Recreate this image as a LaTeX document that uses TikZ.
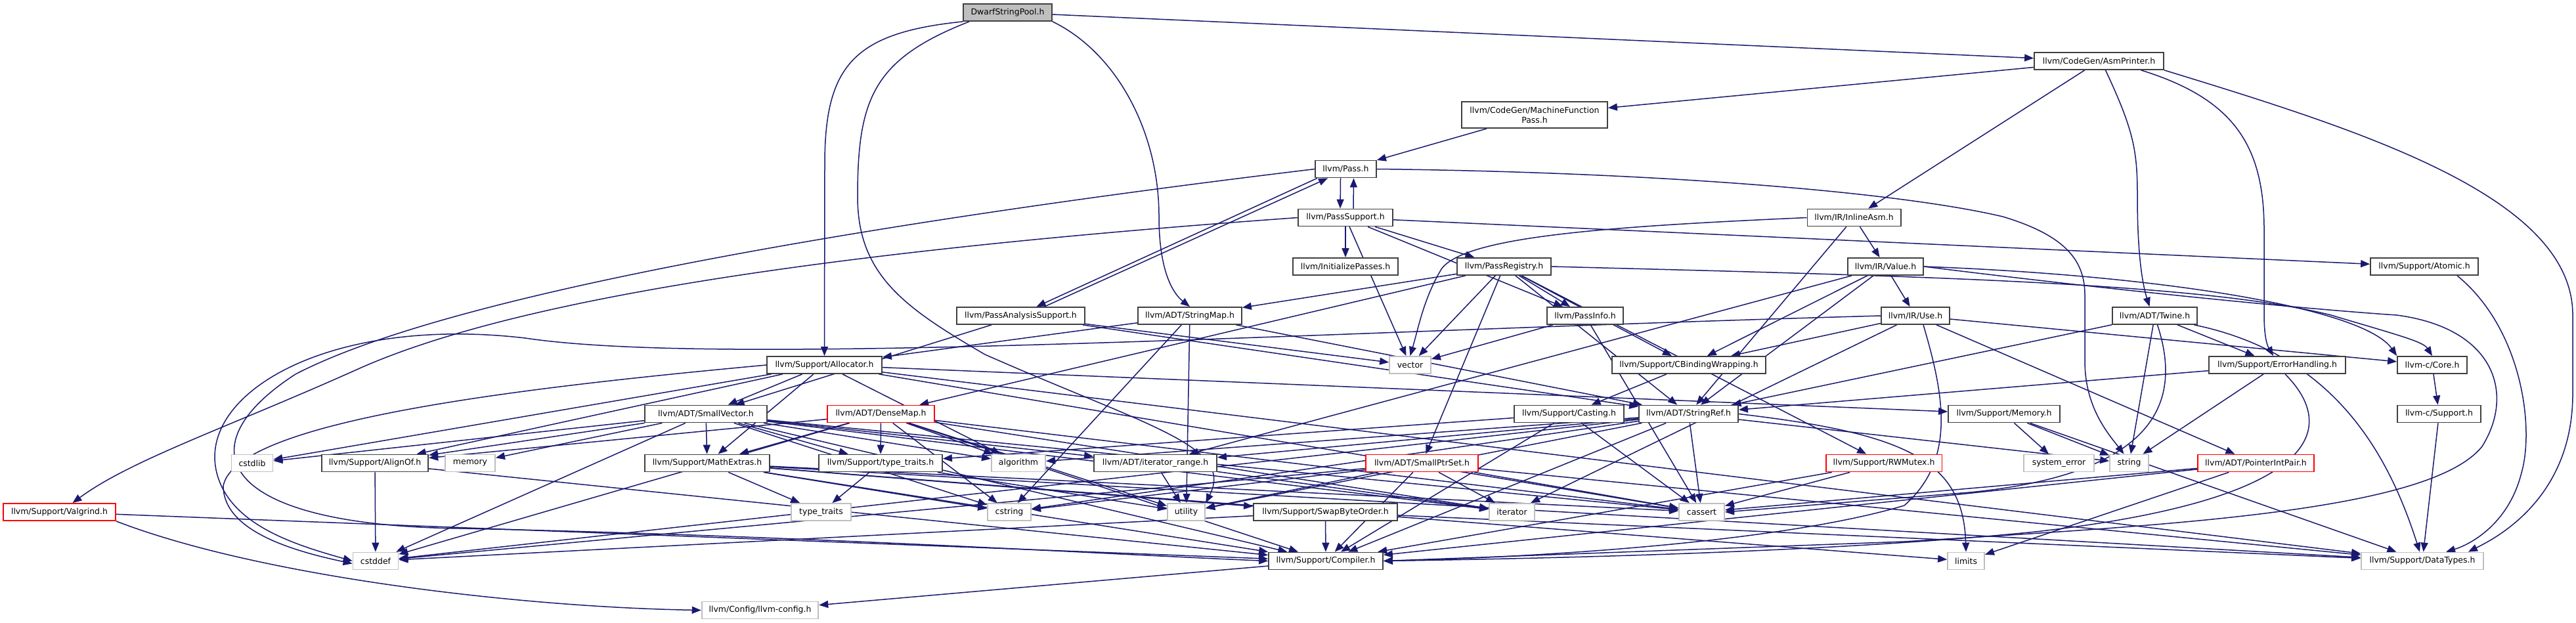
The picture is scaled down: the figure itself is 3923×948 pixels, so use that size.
\documentclass[tikz,border=0pt]{standalone}
\usepackage{fontspec}
\setmainfont{DejaVu Sans}
\usetikzlibrary{arrows.meta}
\definecolor{edgec}{HTML}{191970}
\definecolor{grayb}{HTML}{BFBFBF}
\definecolor{darkb}{HTML}{404040}
\pgfdeclarelayer{bg}
\pgfsetlayers{bg,main}
\begin{document}
\begin{tikzpicture}[x=0.5pt,y=-0.5pt,
  nd/.style={draw=darkb, line width=0.9pt, fill=white, minimum height=13pt, inner xsep=5.5pt, inner ysep=1pt, font=\fontsize{6.23pt}{7.5pt}\selectfont, text=black},
  sys/.style={nd, draw=grayb},
  trunc/.style={nd, draw=red},
  wd/.style={minimum width=#1*0.5pt},
  ed/.style={draw=edgec, line width=0.75pt, -{Triangle[length=7pt,width=5.5pt]}}]
\useasboundingbox (0,0) rectangle (3923,948);
\node[nd,wd=135,fill=grayb] (dsp) at (1534.5,19) {DwarfStringPool.h};
\node[nd,wd=197] (asm) at (3196.5,93) {llvm/CodeGen/AsmPrinter.h};
\node[nd,wd=222,minimum height=20pt,align=center] (mfp) at (2337,175) {llvm/CodeGen/MachineFunction\\Pass.h};
\node[nd,wd=93] (pass) at (2049.5,257.5) {llvm/Pass.h};
\node[nd,wd=144] (psup) at (2049,331.5) {llvm/PassSupport.h};
\node[nd,wd=141] (inl) at (2823.5,331.5) {llvm/IR/InlineAsm.h};
\node[nd,wd=160] (init) at (2049,406) {llvm/InitializePasses.h};
\node[nd,wd=143] (preg) at (2290.5,406) {llvm/PassRegistry.h};
\node[nd,wd=115] (val) at (2871.5,406) {llvm/IR/Value.h};
\node[nd,wd=164] (atom) at (3692,406) {llvm/Support/Atomic.h};
\node[nd,wd=195] (pas) at (1554.5,481) {llvm/PassAnalysisSupport.h};
\node[nd,wd=158] (smap) at (1812,481) {llvm/ADT/StringMap.h};
\node[nd,wd=116] (pinfo) at (2414,481) {llvm/PassInfo.h};
\node[nd,wd=104] (use) at (2917,481) {llvm/IR/Use.h};
\node[nd,wd=127] (twine) at (3281.5,481) {llvm/ADT/Twine.h};
\node[nd,wd=175] (alloc) at (1255.5,556) {llvm/Support/Allocator.h};
\node[sys,wd=63] (vec) at (2147.5,556) {vector};
\node[nd,wd=234] (cbw) at (2572,556) {llvm/Support/CBindingWrapping.h};
\node[nd,wd=208] (err) at (3468,556) {llvm/Support/ErrorHandling.h};
\node[nd,wd=106] (core) at (3704,556) {llvm-c/Core.h};
\node[nd,wd=186] (svec) at (1075,630.5) {llvm/ADT/SmallVector.h};
\node[trunc,wd=163] (dmap) at (1341.5,630.5) {llvm/ADT/DenseMap.h};
\node[nd,wd=167] (cast) at (2389.5,630.5) {llvm/Support/Casting.h};
\node[nd,wd=151] (sref) at (2571.5,630.5) {llvm/ADT/StringRef.h};
\node[nd,wd=170] (mem) at (3052,630.5) {llvm/Support/Memory.h};
\node[nd,wd=127] (csup) at (3714.5,630.5) {llvm-c/Support.h};
\node[sys,wd=62] (cstdlib) at (384,705.5) {cstdlib};
\node[nd,wd=162] (align) at (571,705.5) {llvm/Support/AlignOf.h};
\node[sys,wd=76] (memory) at (716,705.5) {memory};
\node[nd,wd=190] (math) at (1077,705.5) {llvm/Support/MathExtras.h};
\node[nd,wd=188] (tt) at (1341,705.5) {llvm/Support/type\_traits.h};
\node[sys,wd=82] (algo) at (1551,705.5) {algorithm};
\node[nd,wd=187] (irange) at (1759.5,705.5) {llvm/ADT/iterator\_range.h};
\node[trunc,wd=171] (sps) at (2165.5,705.5) {llvm/ADT/SmallPtrSet.h};
\node[trunc,wd=176] (rwm) at (2869,705.5) {llvm/Support/RWMutex.h};
\node[sys,wd=107] (syserr) at (3135.5,705.5) {system\_error};
\node[sys,wd=59] (str) at (3242.5,705.5) {string};
\node[trunc,wd=177] (pip) at (3435.5,705.5) {llvm/ADT/PointerIntPair.h};
\node[trunc,wd=171] (valg) at (90.5,780) {llvm/Support/Valgrind.h};
\node[sys,wd=91] (stt) at (1250.5,780) {type\_traits};
\node[sys,wd=66] (cstring) at (1537,780) {cstring};
\node[sys,wd=55] (util) at (1806.5,780) {utility};
\node[nd,wd=219] (swap) at (2018.5,780) {llvm/Support/SwapByteOrder.h};
\node[sys,wd=69] (iter) at (2302.5,780) {iterator};
\node[sys,wd=69] (cassert) at (2591.5,780) {cassert};
\node[sys,wd=69] (cstddef) at (572,854.5) {cstddef};
\node[nd,wd=174] (comp) at (2019,854.5) {llvm/Support/Compiler.h};
\node[sys,wd=56] (limits) at (2994,854.5) {limits};
\node[sys,wd=186] (dtypes) at (3689,854.5) {llvm/Support/DataTypes.h};
\node[sys,wd=177] (cfg) at (1157.5,929.5) {llvm/Config/llvm-config.h};
\begin{pgfonlayer}{bg}
\foreach \a/\b in {dsp/asm, asm/mfp, asm/inl, mfp/pass,
 psup/init, psup/pinfo, psup/preg, psup/atom, psup/vec,
 pas/svec, pas/sref, pas/vec,
 inl/val, inl/sref,
 preg/smap, preg/dmap, preg/vec, preg/sps, preg/sref, preg/pinfo, preg/cbw, preg/rwm,
 smap/sref, smap/alloc, smap/cstring, smap/util,
 pinfo/vec, pinfo/cassert,
 val/use, val/cbw, val/sref, val/irange,
 use/cbw, use/pip, use/core, use/iter,
 twine/sref, twine/str, twine/err,
 err/sref, err/str,
 core/csup, csup/dtypes,
 alloc/svec, alloc/align, alloc/dtypes, alloc/math, alloc/mem, alloc/algo, alloc/cassert, alloc/cstdlib,
 svec/cstdlib, svec/align, svec/cstddef, svec/memory, svec/math, svec/tt, svec/algo, svec/irange, svec/comp, svec/cassert, svec/cstring, svec/iter,
 dmap/align, dmap/math, dmap/tt, dmap/algo, dmap/cassert, dmap/cstddef, dmap/cstring, dmap/iter, dmap/util, dmap/comp,
 math/comp, math/swap, math/dtypes, math/cassert, math/cstring, math/stt, math/limits,
 tt/stt, tt/util, irange/util, irange/iter,
 cast/tt, cast/comp, cast/cassert, cbw/cast,
 sref/algo, sref/cassert, sref/cstddef, sref/cstring, sref/str, sref/util, sref/comp, sref/irange,
 sps/comp, sps/iter, sps/cassert, sps/cstddef, sps/cstring, sps/util, sps/dtypes,
 rwm/comp, rwm/cassert,
 mem/dtypes, mem/syserr, mem/str,
 pip/comp, pip/limits, pip/cassert,
 swap/comp, swap/dtypes, swap/cstddef,
 valg/comp, comp/cfg, align/cstddef, align/comp}
 {\draw[ed] (\a) -- (\b);}
% paired edges
\draw[ed] ([xshift=-4pt]pass.south) -- ([xshift=-4pt]psup.north);
\draw[ed] ([xshift=6pt]psup.north) -- ([xshift=6pt]pass.south);
\draw[ed] ([xshift=2pt]pass.south west) -- ([xshift=12pt]pas.north);
\draw[ed] ([xshift=18pt]pas.north) -- ([xshift=10pt]pass.south west);
% curved edges
\draw[ed] (dsp.south west) .. controls (1300,50) and (1256,100) .. (1256,250) -- (alloc.north);
\draw[ed] ([xshift=5pt]dsp.south west) .. controls (1330,90) and (1306,150) .. (1306,300) .. controls (1306,420) and (1380,470) .. (1500,540) .. controls (1750,650) and (1880,680) .. (util.north east);
\draw[ed] (dsp.south east) .. controls (1700,80) and (1765,200) .. (1765,330) .. controls (1765,420) and (1790,450) .. (smap.north);
\draw[ed] (asm.south east) .. controls (3600,200) and (3918,300) .. (3918,480) -- (3918,600) .. controls (3918,760) and (3800,820) .. ([xshift=-12pt]dtypes.north east);
\draw[ed] ([xshift=32pt]asm.south) .. controls (3400,150) and (3448,220) .. (3448,350) -- (3448,480) .. controls (3448,520) and (3455,530) .. ([xshift=-3pt]err.north);
\draw[ed] ([xshift=5pt]asm.south) .. controls (3250,200) and (3255,230) .. (3255,300) .. controls (3255,400) and (3265,440) .. ([xshift=-4pt]twine.north);
\draw[ed] (pass.east) .. controls (2500,262) and (2880,290) .. (3050,330) .. controls (3150,360) and (3175,400) .. (3175,450) -- (3175,550) .. controls (3175,620) and (3210,660) .. ([xshift=-4pt]str.north);
\draw[ed] (pass.west) .. controls (1400,330) and (700,440) .. (450,570) .. controls (280,680) and (330,800) .. (700,805) .. controls (1200,815) and (1700,845) .. (comp.west);
\draw[ed] (psup.west) .. controls (1300,380) and (800,450) .. (550,560) .. controls (350,650) and (200,700) .. ([xshift=10pt]valg.north);
\draw[ed] (use.west) .. controls (2000,505) and (1100,560) .. (800,515) .. controls (500,480) and (300,600) .. (330,720) .. controls (350,800) and (450,830) .. (cstddef.west);
\draw[ed] (alloc.west) .. controls (800,590) and (360,640) .. (340,740) .. controls (340,810) and (450,840) .. ([yshift=-2pt]cstddef.west);
\draw[ed] (valg.south east) .. controls (400,880) and (800,925) .. (cfg.west);
\draw[ed] (inl.west) .. controls (2450,345) and (2230,360) .. (2195,410) .. controls (2168,455) and (2160,500) .. (vec.north);
\draw[ed] ([xshift=2pt]twine.south) .. controls (3320,600) and (3300,720) .. (3000,750) -- (cassert.east);
\draw[ed] ([xshift=6pt]err.south) .. controls (3560,650) and (3540,760) .. (3100,810) .. controls (2800,840) and (2400,850) .. (comp.east);
\draw[ed] ([xshift=6pt]use.south) .. controls (2960,600) and (2980,700) .. (2900,770) .. controls (2700,830) and (2300,850) .. (comp.east);
\draw[ed] (val.east) .. controls (3200,440) and (3500,470) .. (3650,480) .. controls (3800,500) and (3830,600) .. (3780,680) .. controls (3700,780) and (3300,800) .. (2900,825) -- (comp.east);
\draw[ed] ([xshift=25pt]atom.south) .. controls (3840,500) and (3860,650) .. (3840,720) .. controls (3820,800) and (3760,830) .. ([xshift=18pt]dtypes.north);
\draw[ed] (sref.east) .. controls (2900,660) and (2990,700) .. (limits.north);
\draw[ed] (preg.east) .. controls (2900,420) and (3350,430) .. (3550,480) .. controls (3650,510) and (3690,520) .. (core.north);
\draw[ed] (val.east) .. controls (3300,420) and (3600,470) .. (core.north west);
\draw[ed] ([xshift=30pt]twine.south) .. controls (3560,540) and (3640,700) .. ([xshift=-2pt]dtypes.north);
\end{pgfonlayer}
\end{tikzpicture}
\end{document}
